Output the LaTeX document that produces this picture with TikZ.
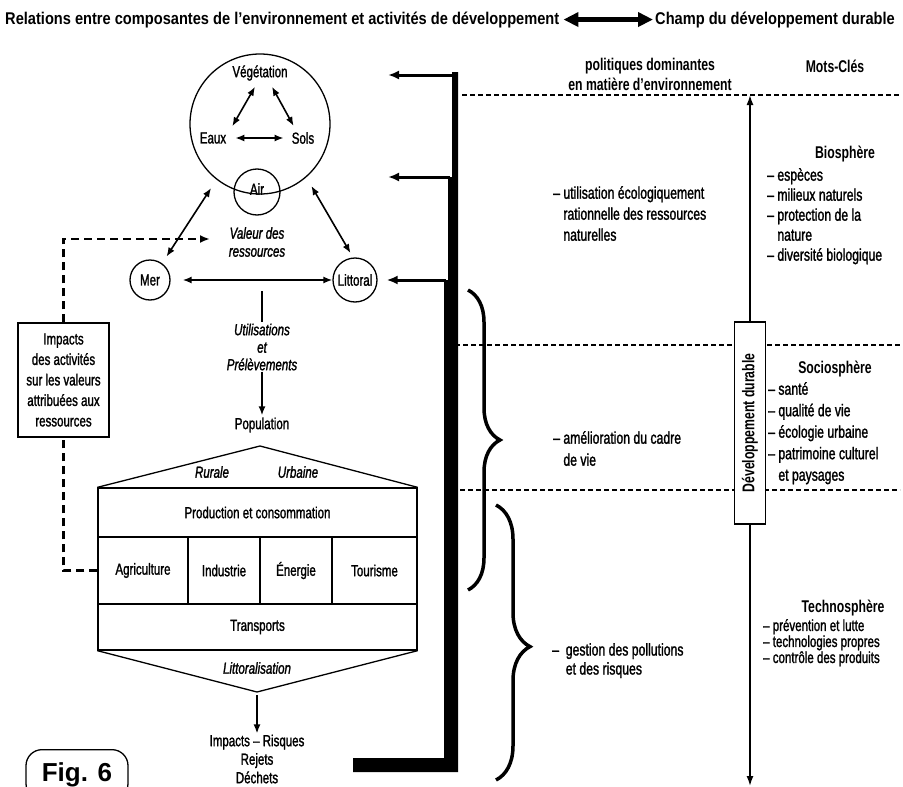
\documentclass[tikz,border=0pt]{standalone}
\usepackage{fontspec}
\setmainfont{Liberation Sans}[FakeStretch=0.72, UprightFeatures={FakeBold=1.4}, ItalicFeatures={FakeBold=1.4}]
\newfontfamily\titlefont{Liberation Sans}[FakeStretch=0.86]
\newfontfamily\figfont{Liberation Sans}
\usetikzlibrary{arrows.meta,decorations.pathreplacing,calc}
\tikzset{
  lab/.style={inner sep=1pt, font=\fontsize{16}{18}\selectfont},
  ilab/.style={inner sep=1pt, font=\fontsize{16}{18}\selectfont\itshape},
  rtxt/.style={inner sep=0pt, align=left, anchor=north west},
  rhead/.style={inner sep=0pt, anchor=base, font=\bfseries\fontsize{17}{20}\selectfont},
  conn/.style={line width=1.6pt, -{Latex[length=9pt,width=7pt]}},
  dconn/.style={line width=1.6pt, {Latex[length=9pt,width=7pt]}-{Latex[length=9pt,width=7pt]}},
  ring/.style={circle, draw, line width=1.3pt, inner sep=0pt},
  cell/.style={draw, line width=1.3pt, inner sep=0pt, font=\fontsize{16}{18}\selectfont},
  hdash/.style={line width=1.2pt, dash pattern=on 5pt off 3pt},
  thickdash/.style={line width=2.2pt, dash pattern=on 8pt off 5pt},
  bigarrow/.style={line width=3pt, -{Latex[length=11pt,width=9pt]}},
  brk/.style={line width=3.5pt, decorate},
}
\begin{document}
\begin{tikzpicture}[x=1pt,y=-1pt]
\useasboundingbox (0,0) rectangle (903,787);
\fill[white] (0,0) rectangle (903,787);

% ---------- title ----------
\node[anchor=base west, inner sep=0pt, font=\titlefont\bfseries\fontsize{17}{20}\selectfont] (t1) at (5,24)
  {Relations entre composantes de l’environnement et activités de développement};
\node[anchor=base west, inner sep=0pt, font=\titlefont\bfseries\fontsize{17}{20}\selectfont] (t2) at (655,24)
  {Champ du développement durable};
\draw[line width=4.5pt, shorten <=4pt, shorten >=2pt,
  {Triangle[length=15pt,width=14pt]}-{Triangle[length=15pt,width=14pt]}] (t1.east) -- (t2.west);

% ---------- environment circle ----------
\node[ring, minimum size=140pt] (big) at (260,124) {};
\node[ring, minimum size=46pt] (air) at (257,192) {};
\node[lab] (airt) at (257,189) {Air};
\node[lab] (veg) at (260,73) {Végétation};
\node[lab] (eaux) at (213,138) {Eaux};
\node[lab] (sols) at (303,138) {Sols};
\draw[dconn] ($(veg.south)+(-5,5)$) -- ($(eaux.north east)+(5,-5)$);
\draw[dconn] ($(veg.south)+(12,5)$) -- ($(sols.north west)+(3,-5)$);
\draw[dconn] ($(eaux.east)+(8,0)$) -- ($(sols.west)+(-7,0)$);

\node[ring, minimum size=40pt] (mer) at (150,280) {};
\node[lab] (mert) at (150,280) {Mer};
\node[ring, minimum size=44pt] (litt) at (355,280) {};
\node[lab] (littt) at (355,280) {Littoral};
\draw[dconn, shorten <=10pt, shorten >=8pt] (big.232) -- (mer.54);
\draw[dconn, shorten <=10pt, shorten >=5pt] (big.311) -- (litt.95);
\draw[dconn, shorten <=12pt] (mer) -- (litt);

\node[ilab, align=center] (val) at (257,242) {Valeur des\\ressources};

% ---------- impacts box and dashed link ----------
\node[draw, line width=1.3pt, minimum width=91pt, minimum height=114pt, align=center,
  inner sep=0pt, font=\fontsize{16}{20.5}\selectfont] (imp) at (63.5,380)
  {Impacts\\des activités\\sur les valeurs\\attribuées aux\\ressources};

% ---------- flow ----------
\coordinate (mlmid) at (262,291);
\node[inner sep=1pt, align=center, font=\fontsize{16}{17.5}\selectfont\itshape] (util) at (262,347)
  {Utilisations\\et\\Prélèvements};
\draw[line width=1.3pt] (mlmid) -- (util.north);
\node[lab] (pop) at (262,425) {Population};
\draw[conn, shorten >=1pt] (util.south) -- (pop.north);

% ---------- house ----------
\node[cell, minimum width=319pt, minimum height=49pt] (prod) at (257.5,512.5) {Production et consommation};
\node[cell, minimum width=90pt, minimum height=67pt] (agri) at (143,570.5) {Agriculture};
\node[cell, minimum width=72pt, minimum height=67pt] (indu) at (224,570.5) {Industrie};
\node[cell, minimum width=72pt, minimum height=67pt] (ener) at (296,570.5) {Énergie};
\node[cell, minimum width=85pt, minimum height=67pt] (tour) at (374.5,570.5) {Tourisme};
\node[cell, minimum width=319pt, minimum height=46pt] (trans) at (257.5,627) {Transports};
\coordinate (roof) at (260,446);
\coordinate (keel) at (257,692);
\draw[line width=1.3pt, line join=miter] (prod.north west) -- (roof) -- (prod.north east);
\draw[line width=1.3pt, line join=miter] (trans.south west) -- (keel) -- (trans.south east);
\node[ilab] (rur) at (212,472) {Rurale};
\node[ilab] (urb) at (298,472) {Urbaine};
\node[ilab] (litz) at (257,668) {Littoralisation};

\node[inner sep=1pt, align=center, font=\fontsize{16}{18.5}\selectfont] (out) at (257,759)
  {Impacts – Risques\\Rejets\\Déchets};
\draw[conn, shorten <=3pt] (keel) -- (out.north);

\coordinate (dtip) at (210,239);
\draw[thickdash] (agri.west) -| (imp.south);
\draw[thickdash, -{Latex[length=10pt,width=8pt]}] (imp.north) |- (dtip);

% ---------- Fig. 6 ----------
\node[draw, rounded corners=16pt, line width=1.3pt, minimum width=102pt, minimum height=50pt,
  anchor=north, inner sep=0pt, font=\figfont\bfseries\fontsize{26}{28}\selectfont] (fig) at (77,749) {Fig. 6};

% ---------- thick bracket ----------
\fill (452,72) -- (458,72) -- (458,772) -- (353,772) -- (353,758) -- (444,758)
  -- (444,280) -- (448,280) -- (448,177) -- (452,177) -- cycle;
\coordinate (b1) at (456,75);
\coordinate (b2) at (450,177);
\coordinate (b3) at (446,280);
\coordinate (a1) at (388,75);
\coordinate (a2) at (388,177);
\draw[bigarrow] (b1) -- (a1);
\draw[bigarrow] (b2) -- (a2);
\draw[bigarrow, shorten >=9pt] (b3) -- (litt);

% ---------- braces ----------
\draw[brk, decoration={brace, amplitude=32pt}] (468,290) -- (468,590);
\draw[brk, decoration={brace, amplitude=34pt, aspect=0.515}] (496,505) -- (496,780);

% ---------- dashed separators ----------
\draw[hdash] (462,95) -- (900,95);
\draw[hdash] (455,345) -- (900,345);
\draw[hdash] (460,490) -- (900,490);

% ---------- sustainable development axis ----------
\node[draw, fill=white, line width=1.3pt, rotate=90, minimum width=202pt, minimum height=31pt,
  inner sep=0pt, font=\bfseries\fontsize{17}{20}\selectfont] (dd) at (750,423) {Développement durable};
\coordinate (ddtop) at (750,95);
\coordinate (ddbot) at (750,786);
\draw[line width=1.6pt, -{Latex[length=10pt,width=7pt]}] (dd.east) -- (ddtop);
\draw[line width=1.6pt, -{Latex[length=10pt,width=7pt]}] (dd.west) -- (ddbot);

% ---------- right column texts ----------
\node[inner sep=0pt, anchor=north, align=center, font=\bfseries\fontsize{17}{20}\selectfont] (pol) at (650,58)
  {politiques dominantes\\en matière d’environnement};
\node[rhead] (mots) at (835,72) {Mots-Clés};

\node[rtxt, font=\fontsize{17}{21}\selectfont] (p1) at (553,186)
  {– utilisation écologiquement\\\phantom{– }rationnelle des ressources\\\phantom{– }naturelles};
\node[rtxt, font=\fontsize{17}{22}\selectfont] (p2) at (553,431)
  {– amélioration du cadre\\\phantom{– }de vie};
\node[rtxt, font=\fontsize{17}{19}\selectfont] (p3) at (552,643)
  {– \ gestion des pollutions\\\phantom{– \ }et des risques};

\node[rhead] (bio) at (845,158) {Biosphère};
\node[rtxt, font=\fontsize{17}{20}\selectfont] (biol) at (767,168)
  {– espèces\\– milieux naturels\\– protection de la\\\phantom{– }nature\\– diversité biologique};
\node[rhead] (soc) at (835,373) {Sociosphère};
\node[rtxt, font=\fontsize{17}{21.5}\selectfont] (socl) at (768,382)
  {– santé\\– qualité de vie\\– écologie urbaine\\– patrimoine culturel\\\phantom{– }et paysages};
\node[rhead] (tec) at (843,612) {Technosphère};
\node[rtxt, font=\fontsize{16}{16}\selectfont] (tecl) at (763,619)
  {– prévention et lutte\\– technologies propres\\– contrôle des produits};
\end{tikzpicture}
\end{document}
